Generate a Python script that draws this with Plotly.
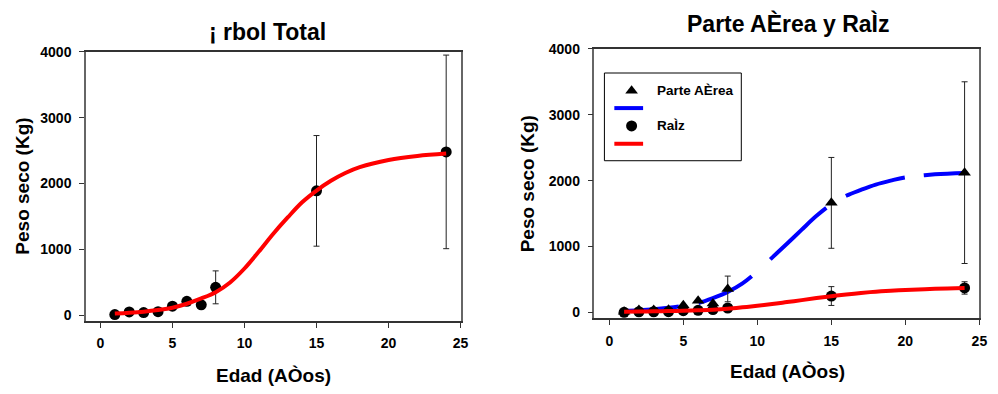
import plotly.graph_objects as go

# ---- data -------------------------------------------------------------
edad = [1, 2, 3, 4, 5, 6, 7, 8, 15, 24]

# whole tree dry weight (kg)
total = [10, 50, 40, 55, 138, 212, 158, 424, 1889, 2481]
total_err = [None, None, None, None, None, None, None, 250, 840, 1470]

# above-ground part and root dry weight (kg)
aerea = [10, 35, 35, 40, 108, 175, 133, 355, 1662, 2121]
aerea_err = [None, None, None, None, None, None, None, 195, 690, 1380]
raiz = [0, 8, 8, 10, 25, 30, 42, 65, 247, 370]
raiz_err = [None, None, None, None, None, None, None, None, 143, 94]

# fitted growth curves
fit_total_x = [1, 2, 3, 4, 5, 6, 7, 8, 9, 10, 11, 12, 13, 14, 15, 16, 17, 18, 20, 22, 24]
fit_total_y = [25, 38, 55, 80, 115, 175, 255, 350, 498, 710, 967, 1238, 1485, 1716,
               1894, 2042, 2160, 2249, 2358, 2420, 2456]

fit_aerea_x = [1, 2, 3, 4, 5, 6, 7, 8, 9, 10, 11, 12, 13, 14, 15, 16, 17, 18, 19, 20, 22, 24]
fit_aerea_y = [20, 30, 45, 68, 100, 140, 215, 310, 440, 620, 830, 1040, 1255, 1465,
               1640, 1770, 1860, 1940, 2000, 2050, 2095, 2116]

fit_raiz_x = [1, 2, 3, 4, 5, 6, 7, 8, 9, 10, 11, 12, 13, 14, 15, 16, 17, 18, 19, 20, 22, 24]
fit_raiz_y = [10, 12, 15, 19, 24, 31, 40, 54, 75, 99, 125, 155, 185, 216, 245, 271,
              294, 313, 328, 340, 357, 368]

x_ticks = [0, 5, 10, 15, 20, 25]
y_ticks = [0, 1000, 2000, 3000, 4000]

FONT = "Liberation Sans, Arial, sans-serif"
W, H = 998, 394

# long-dash pattern of the above-ground fit
AEREA_DASH = "55px,20px,60px,25px,76px,23px,62px,19px,120px"

fig = go.Figure()

err_style = dict(type="data", visible=True, color="#222222", thickness=1, width=3)

# ---- left panel: whole tree -------------------------------------------
fig.add_trace(go.Scatter(
    x=edad, y=total, mode="markers",
    marker=dict(symbol="circle", size=11, color="black"),
    error_y=dict(array=total_err, **err_style),
    xaxis="x", yaxis="y", showlegend=False))
fig.add_trace(go.Scatter(
    x=fit_total_x, y=fit_total_y, mode="lines",
    line=dict(color="#FF0000", width=4, shape="spline"),
    xaxis="x", yaxis="y", showlegend=False))

# ---- right panel: above-ground part and root --------------------------
fig.add_trace(go.Scatter(
    x=fit_aerea_x, y=fit_aerea_y, mode="lines",
    line=dict(color="#0000FF", width=4, shape="spline", dash=AEREA_DASH),
    xaxis="x2", yaxis="y2", showlegend=False))
fig.add_trace(go.Scatter(
    x=edad, y=aerea, mode="markers",
    marker=dict(symbol="triangle-up", size=11, color="black"),
    error_y=dict(array=aerea_err, **err_style),
    xaxis="x2", yaxis="y2", showlegend=False))
fig.add_trace(go.Scatter(
    x=edad, y=raiz, mode="markers",
    marker=dict(symbol="circle", size=11, color="black"),
    error_y=dict(array=raiz_err, **err_style),
    xaxis="x2", yaxis="y2", showlegend=False))
fig.add_trace(go.Scatter(
    x=fit_raiz_x, y=fit_raiz_y, mode="lines",
    line=dict(color="#FF0000", width=4, shape="spline"),
    xaxis="x2", yaxis="y2", showlegend=False))

# ---- legend symbols (pixel overlay axis) ------------------------------
fig.add_trace(go.Scatter(
    x=[636.7], y=[85], mode="markers",
    marker=dict(symbol="triangle-up", size=11, color="black"),
    xaxis="x3", yaxis="y3", showlegend=False, hoverinfo="skip"))
fig.add_trace(go.Scatter(
    x=[636.7], y=[121], mode="markers",
    marker=dict(symbol="circle", size=11, color="black"),
    xaxis="x3", yaxis="y3", showlegend=False, hoverinfo="skip"))


def px(x):
    return x / W


def py(y):
    return 1 - y / H


tick_font = dict(family=FONT, size=14, color="black", weight="bold")


def xax(domain, anchor):
    return dict(domain=domain, anchor=anchor, range=[-1, 25], tickvals=x_ticks,
                showgrid=False, zeroline=False, showline=True, linecolor="#333333",
                linewidth=1.5, mirror=True, ticks="outside", ticklen=5,
                tickcolor="#333333", tickwidth=1, tickfont=tick_font,
                ticklabelstandoff=4)


def yax(domain, anchor, rng):
    return dict(domain=domain, anchor=anchor, range=rng, tickvals=y_ticks,
                showgrid=False, zeroline=False, showline=True, linecolor="#666666",
                linewidth=1.5, mirror=True, ticks="outside", ticklen=5,
                tickcolor="#333333", tickwidth=1, tickfont=tick_font,
                ticklabelstandoff=5)


layout = dict(
    width=W, height=H,
    margin=dict(l=0, r=0, t=0, b=0),
    paper_bgcolor="white", plot_bgcolor="rgba(0,0,0,0)",
    xaxis=xax([px(86.7), px(464.3)], "y"),
    yaxis=yax([py(321), py(45)], "x", [-85, 4000]),
    xaxis2=xax([px(599.3), px(987.3)], "y2"),
    yaxis2=yax([py(318.3), py(42)], "x2", [-90, 4000]),
    xaxis3=dict(domain=[0, 1], anchor="y3", range=[0, W], visible=False, fixedrange=True),
    yaxis3=dict(domain=[0, 1], anchor="x3", range=[H, 0], visible=False, fixedrange=True),
)
fig.update_layout(**layout)

title_font = dict(family=FONT, size=23, color="black", weight="bold")
label_font = dict(family=FONT, size=19, color="black", weight="bold")
legend_font = dict(family=FONT, size=13.5, color="black", weight="bold")

annotations = [
    dict(text="¡ rbol Total", x=px(270), y=py(25), font=title_font),
    dict(text="Parte AÈrea y RaÌz", x=px(794), y=py(16), font=title_font),
    dict(text="Edad (AÒos)", x=px(276), y=py(377), font=label_font),
    dict(text="Edad (AÒos)", x=px(794), y=py(373), font=label_font),
    dict(text="Peso seco (Kg)", x=px(22.5), y=py(183), font=label_font, textangle=-90),
    dict(text="Peso seco (Kg)", x=px(531.7), y=py(180.5), font=label_font, textangle=-90),
]
for a in annotations:
    fig.add_annotation(xref="paper", yref="paper", showarrow=False,
                       xanchor="center", yanchor="middle", **a)

for txt, yy in [("Parte AÈrea", 85), ("RaÌz", 121)]:
    fig.add_annotation(xref="paper", yref="paper", showarrow=False,
                       xanchor="left", yanchor="middle", text=txt,
                       x=px(660), y=py(yy), font=legend_font)

# legend frame and line samples
fig.add_shape(type="rect", xref="paper", yref="paper",
              x0=px(609.3), x1=px(747.3), y0=py(156.7), y1=py(66.7),
              line=dict(color="black", width=1), fillcolor="rgba(0,0,0,0)")
fig.add_shape(type="line", xref="paper", yref="paper",
              x0=px(619.3), x1=px(648.3), y0=py(102.7), y1=py(102.7),
              line=dict(color="#0000FF", width=4))
fig.add_shape(type="line", xref="paper", yref="paper",
              x0=px(619.3), x1=px(648.3), y0=py(139.3), y1=py(139.3),
              line=dict(color="#FF0000", width=4))

fig.write_html("out.html")
